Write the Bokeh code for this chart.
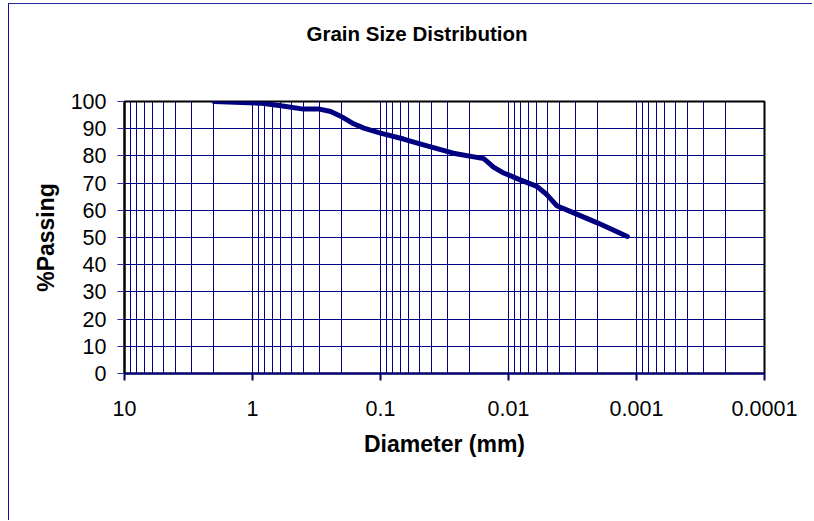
from bokeh.plotting import figure
from bokeh.models import Range1d, FixedTicker, CustomJSTickFormatter, Title
from bokeh.embed import file_html
from bokeh.resources import INLINE

# ---- data ----
diameter_mm = [2.0, 0.87, 0.6, 0.4, 0.3, 0.245, 0.205, 0.162, 0.135, 0.1,
               0.066, 0.05, 0.027, 0.0156, 0.0131, 0.0109, 0.0081, 0.006,
               0.005, 0.0042, 0.0033, 0.002, 0.00118]
percent_passing = [100, 99.4, 98.4, 97.2, 97.2, 96.3, 94.6, 91.8, 90.2, 88.4,
                   86.2, 84.5, 81.0, 79.0, 75.9, 73.7, 71.2, 68.8,
                   65.7, 61.7, 59.6, 55.3, 50.4]

x_ticks = [10, 1, 0.1, 0.01, 0.001, 0.0001]
x_tick_labels = ["10", "1", "0.1", "0.01", "0.001", "0.0001"]
x_minor_multipliers = [2, 3, 4, 5, 6, 7, 8, 9]
y_ticks = [0, 10, 20, 30, 40, 50, 60, 70, 80, 90, 100]

TITLE = "Grain Size Distribution"
X_LABEL = "Diameter (mm)"
Y_LABEL = "%Passing"

FONT = "Liberation Sans"
NAVY = "#000080"

x_start, x_end = x_ticks[0], x_ticks[-1]
y_start, y_end = y_ticks[0], y_ticks[-1]
x_minor = [m * base for base in x_ticks[1:] for m in x_minor_multipliers]

p = figure(x_axis_type="log", x_range=Range1d(x_start, x_end), y_range=Range1d(y_start, y_end),
           frame_width=640, frame_height=272,
           min_border_left=115, min_border_right=48, min_border_top=97, min_border_bottom=147,
           output_backend="svg", toolbar_location=None,
           background_fill_color="white", border_fill_color="white")

p.styles = {"margin-top": "3px", "margin-left": "8px",
            "border-top": "1px solid #2828a8", "border-left": "1px solid #1010b0"}

# empty spacer title between frame and the real title (pushes the title up)
p.add_layout(Title(text=" ", text_font=FONT, text_font_size="10px", standoff=44), "above")

# title (outermost in the above panel)
p.title.text = TITLE
p.title.align = "left"
p.title.offset = 182
p.title.standoff = 0
p.title.text_font = FONT
p.title.text_font_size = "20.5px"
p.title.text_font_style = "bold"
p.title.text_color = "black"

# frame
p.outline_line_color = "black"
p.outline_line_width = 2

# grids
p.xgrid.grid_line_color = NAVY
p.xgrid.minor_grid_line_color = NAVY
p.ygrid.grid_line_color = NAVY

# x axis
p.xaxis.ticker = FixedTicker(ticks=x_ticks, minor_ticks=x_minor)
p.xaxis.formatter = CustomJSTickFormatter(args=dict(tvals=x_ticks, tlabels=x_tick_labels), code="""
for (let i = 0; i < tvals.length; i++) {
  if (Math.abs(tvals[i] - tick) <= 1e-9 * Math.abs(tvals[i])) return tlabels[i];
}
return "";
""")
p.xaxis.axis_line_color = NAVY
p.xaxis.axis_line_width = 2
p.xaxis.major_tick_line_color = NAVY
p.xaxis.major_tick_line_width = 2
p.xaxis.major_tick_out = 7
p.xaxis.major_tick_in = 0
p.xaxis.minor_tick_line_color = None
p.xaxis.major_label_text_font = FONT
p.xaxis.major_label_text_font_size = "21.5px"
p.xaxis.major_label_text_color = "black"
p.xaxis.major_label_standoff = 20
p.xaxis.axis_label = X_LABEL
p.xaxis.axis_label_text_font = FONT
p.xaxis.axis_label_text_font_size = "23px"
p.xaxis.axis_label_text_font_style = "bold"
p.xaxis.axis_label_text_color = "black"
p.xaxis.axis_label_standoff = 12

# y axis
p.yaxis.ticker = FixedTicker(ticks=y_ticks)
p.yaxis.axis_line_color = "black"
p.yaxis.axis_line_width = 2
p.yaxis.major_tick_line_color = "#3030a0"
p.yaxis.major_tick_line_width = 1
p.yaxis.major_tick_out = 7
p.yaxis.major_tick_in = 0
p.yaxis.minor_tick_line_color = None
p.yaxis.major_label_text_font = FONT
p.yaxis.major_label_text_font_size = "21.5px"
p.yaxis.major_label_text_color = "black"
p.yaxis.major_label_standoff = 11
p.yaxis.axis_label = Y_LABEL
p.yaxis.axis_label_text_font = FONT
p.yaxis.axis_label_text_font_size = "23px"
p.yaxis.axis_label_text_font_style = "bold"
p.yaxis.axis_label_text_color = "black"
p.yaxis.axis_label_standoff = 9

# data
p.line(diameter_mm, percent_passing, line_color=NAVY, line_width=5,
       line_cap="round", line_join="round")

open("out.html", "w").write(file_html(p, INLINE))
